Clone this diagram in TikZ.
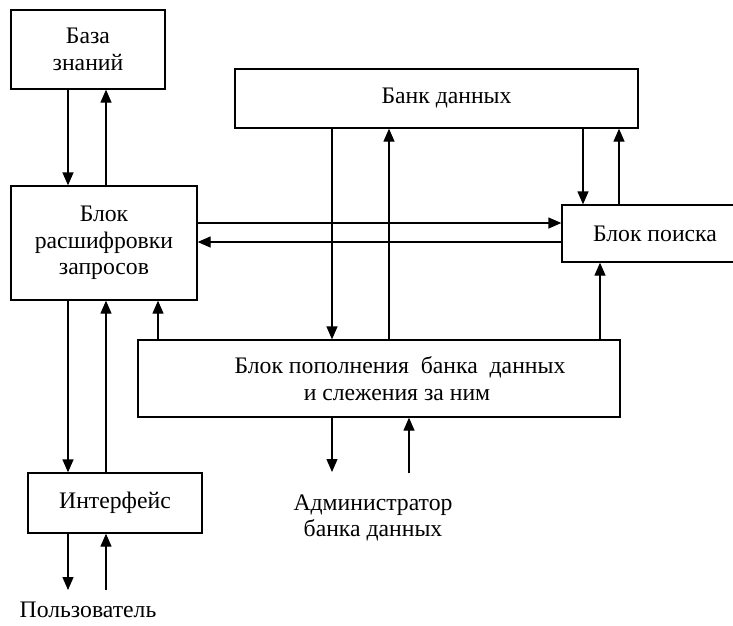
\documentclass[tikz,border=0pt]{standalone}
\usepackage{fontspec}
\setmainfont{Liberation Serif}
\usetikzlibrary{arrows.meta}

\tikzset{
  blockbox/.style={draw, line width=1.3pt, rectangle, align=center, inner sep=0pt},
  flow/.style={line width=1.3pt, -{Triangle[length=13pt,width=11pt]}},
  plain/.style={align=center, inner sep=0pt},
}

\begin{document}
\begin{tikzpicture}[x=1pt, y=-1pt, every node/.style={font=\fontsize{23.7}{26.5}\selectfont}]
  \useasboundingbox (0,0) rectangle (733,625);
  \clip (0,0) rectangle (733,625);

  % blocks
  \node[blockbox, minimum width=154pt, minimum height=79pt] (kb) at (88,49.5) {База\\знаний};
  \node[blockbox, minimum width=403pt, minimum height=59pt] (db) at (436.5,98.5) {\hspace*{20pt}Банк данных};
  \node[blockbox, minimum width=186pt, minimum height=114pt] (dec) at (104,243) {Блок\\расшифровки\\запросов};
  \node[blockbox, minimum width=186pt, minimum height=57pt] (srch) at (655,233.5) {Блок поиска};
  \node[blockbox, minimum width=482pt, minimum height=77pt] (upd) at (379,378.5)
    {\hspace*{42pt}Блок пополнения\ \ банка\ \ данных\\\hspace*{36pt}и слежения за ним};
  \node[blockbox, minimum width=174pt, minimum height=60pt] (ifc) at (115,503) {Интерфейс};

  % outer participants
  \node[plain] (user) at (88,610) {Пользователь};
  \node[plain] (admin) at (373,518) {Администратор\\банка данных};

  % vertical lanes
  \coordinate (xa) at (68,0);
  \coordinate (xb) at (106,0);
  \coordinate (xc) at (158,0);
  \coordinate (xd) at (332,0);
  \coordinate (xe) at (389,0);
  \coordinate (xf) at (583,0);
  \coordinate (xg) at (619,0);
  \coordinate (xh) at (600,0);
  \coordinate (xi) at (409,0);
  % horizontal lanes
  \coordinate (ya) at (0,223);
  \coordinate (yb) at (0,242);
  % free ends
  \coordinate (uout) at (68,590);
  \coordinate (uin) at (106,590);
  \coordinate (aout) at (332,472);
  \coordinate (ain) at (409,473);

  % knowledge base <-> decoder
  \draw[flow] (kb.south -| xa) -- (dec.north -| xa);
  \draw[flow] (dec.north -| xb) -- (kb.south -| xb);
  % decoder <-> search
  \draw[flow] (dec.east |- ya) -- (srch.west |- ya);
  \draw[flow] (srch.west |- yb) -- (dec.east |- yb);
  % data bank <-> update block
  \draw[flow] (db.south -| xd) -- (upd.north -| xd);
  \draw[flow] (upd.north -| xe) -- (db.south -| xe);
  % data bank <-> search
  \draw[flow] (db.south -| xf) -- (srch.north -| xf);
  \draw[flow] (srch.north -| xg) -- (db.south -| xg);
  % update block -> search, decoder
  \draw[flow] (upd.north -| xh) -- (srch.south -| xh);
  \draw[flow] (upd.north -| xc) -- (dec.south -| xc);
  % decoder <-> interface
  \draw[flow] (dec.south -| xa) -- (ifc.north -| xa);
  \draw[flow] (ifc.north -| xb) -- (dec.south -| xb);
  % interface <-> user
  \draw[flow] (ifc.south -| xa) -- (uout);
  \draw[flow] (uin) -- (ifc.south -| xb);
  % update block <-> administrator
  \draw[flow] (upd.south -| xd) -- (aout);
  \draw[flow] (ain) -- (upd.south -| xi);
\end{tikzpicture}
\end{document}
